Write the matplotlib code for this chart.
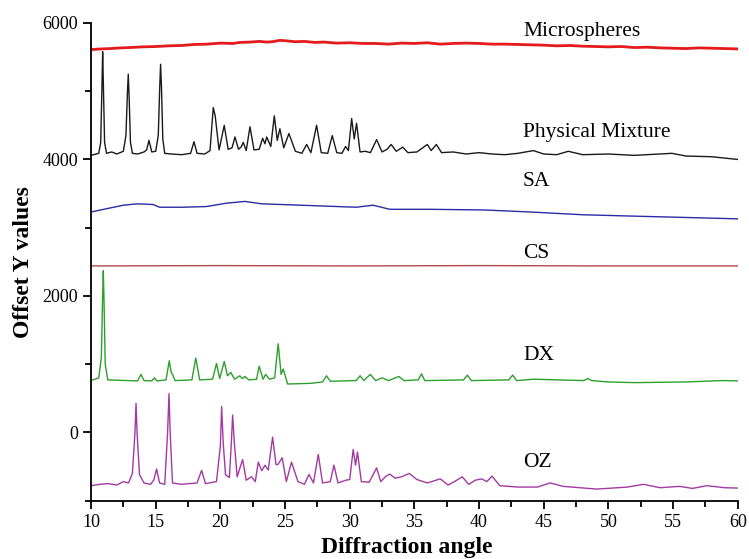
import matplotlib.pyplot as plt

plt.rcParams['font.family'] = ['Liberation Serif', 'DejaVu Serif']

# Microspheres (red)
micro_x = [10, 10.8, 11.5, 12.3, 13, 14, 15, 16, 17, 18, 19, 20, 21, 21.5, 22.3, 23, 23.6, 24, 24.6, 25,
           25.8, 26.5, 27.3, 28, 29, 30, 31, 32, 33, 34, 35, 36, 37, 38, 39, 40, 41, 42, 43, 44, 45,
           46, 47, 48, 49, 50, 51, 52, 53, 54, 55, 56, 57, 58, 59, 60]
micro_y = [5610, 5620, 5625, 5635, 5640, 5650, 5655, 5665, 5670, 5685, 5690, 5705, 5700, 5715, 5720, 5730,
           5720, 5725, 5745, 5740, 5725, 5730, 5715, 5720, 5705, 5710, 5700, 5700, 5690, 5705, 5700,
           5710, 5690, 5700, 5705, 5700, 5690, 5690, 5685, 5680, 5675, 5665, 5670, 5660, 5655, 5650,
           5655, 5640, 5645, 5635, 5630, 5625, 5635, 5630, 5625, 5620]

# Physical Mixture (black)
pm_x = [10.0, 10.6, 10.75, 10.85, 10.9, 10.95, 11.05, 11.2, 11.6, 12.0, 12.5, 12.7, 12.82, 12.88, 12.95,
        13.05, 13.2, 13.6, 14.1, 14.3, 14.48, 14.7, 15.0, 15.2, 15.32, 15.38, 15.45, 15.55, 15.7, 16.2,
        17.0, 17.7, 17.96, 18.2, 18.8, 19.2, 19.45, 19.6, 19.9, 20.3, 20.6, 20.9, 21.13, 21.4, 21.6,
        21.77, 22.0, 22.29, 22.6, 23.0, 23.27, 23.45, 23.58, 23.9, 24.17, 24.4, 24.6, 24.9, 25.3, 25.8,
        26.3, 26.67, 27.0, 27.44, 27.8, 28.3, 28.65, 29.0, 29.4, 29.68, 29.9, 30.15, 30.35, 30.53, 30.8,
        31.2, 31.6, 32.08, 32.5, 32.9, 33.2, 33.6, 34.1, 34.5, 35.2, 36.0, 36.3, 36.7, 37.1, 38.0,
        39, 40, 41, 42, 43, 44.2, 45, 46, 46.9, 48, 50, 52, 54.9, 56, 58, 60]
pm_y = [4060, 4090, 4250, 5100, 5580, 5150, 4250, 4090, 4110, 4080, 4120, 4350, 5000, 5250, 4900,
        4250, 4090, 4080, 4110, 4140, 4280, 4110, 4120, 4350, 5100, 5395, 5050, 4300, 4090, 4080,
        4070, 4090, 4260, 4090, 4080, 4130, 4760, 4640, 4140, 4500, 4150, 4170, 4330, 4150, 4180,
        4250, 4130, 4480, 4140, 4150, 4310, 4230, 4330, 4190, 4640, 4280, 4450, 4170, 4380, 4120,
        4090, 4220, 4100, 4500, 4100, 4090, 4350, 4100, 4090, 4190, 4130, 4600, 4300, 4530, 4110,
        4120, 4100, 4290, 4110, 4150, 4220, 4120, 4180, 4100, 4110, 4220, 4130, 4220, 4100, 4110,
        4080, 4100, 4080, 4070, 4090, 4130, 4080, 4070, 4120, 4070, 4080, 4060, 4090, 4050, 4040, 4000]

# SA (blue)
sa_x = [10, 11.5, 12.5, 13.6, 14.8, 15.3, 17.0, 18.9, 20.5, 21.9, 23.2, 26.2, 30.5, 31.8, 33.1, 36.0,
        40.4, 44.0, 48.0, 51.9, 56.0, 60]
sa_y = [3230, 3290, 3330, 3350, 3340, 3300, 3300, 3310, 3360, 3385, 3350, 3330, 3300, 3330, 3270, 3270,
        3260, 3230, 3190, 3170, 3150, 3130]

# CS (dark red)
cs_x = [10, 20, 30, 40, 50, 60]
cs_y = [2440, 2445, 2440, 2445, 2440, 2440]

# DX (green)
dx_x = [10.0, 10.6, 10.8, 10.9, 10.95, 11.0, 11.1, 11.3, 13.6, 13.86, 14.1, 14.7, 14.9, 15.1, 15.8,
        16.05, 16.2, 16.3, 16.5, 17.8, 18.1, 18.4, 19.4, 19.7, 19.95, 20.3, 20.55, 20.8, 21.1, 21.5,
        21.7, 21.9, 22.2, 22.8, 23.0, 23.3, 23.5, 23.8, 24.2, 24.47, 24.7, 24.86, 25.2, 27.0, 27.9,
        28.2, 28.5, 30.5, 30.8, 31.1, 31.3, 31.6, 32.0, 32.5, 33.0, 33.8, 34.2, 35.3, 35.55, 35.8,
        38.8, 39.1, 39.4, 42.3, 42.6, 42.9, 44.2, 48.1, 48.4, 48.7, 50, 52, 54, 56, 58.8, 60]
dx_y = [760, 800, 1100, 2000, 2370, 2000, 1000, 770, 755, 850, 760, 755, 800, 755, 770,
        1050, 880, 850, 760, 770, 1090, 770, 780, 1010, 790, 1040, 830, 880, 780, 830,
        790, 820, 770, 780, 970, 780, 850, 780, 800, 1300, 850, 930, 710, 720, 740,
        830, 750, 760, 830, 760, 800, 850, 760, 800, 760, 820, 760, 770, 860, 760,
        770, 840, 760, 770, 840, 760, 780, 760, 790, 760, 740, 730, 735, 740, 760, 755]

# OZ (purple)
oz_x = [10.0, 10.7, 11.3, 12.0, 12.5, 12.9, 13.2, 13.4, 13.48, 13.56, 13.75, 14.1, 14.6, 14.85, 15.07,
        15.3, 15.7, 15.92, 16.03, 16.12, 16.3, 17.0, 18.2, 18.55, 18.85, 19.7, 20.0, 20.1, 20.22, 20.4,
        20.7, 20.85, 20.95, 21.08, 21.3, 21.72, 22.0, 22.4, 22.7, 22.93, 23.2, 23.45, 23.7, 24.04, 24.3,
        24.45, 24.78, 25.1, 25.5, 26.0, 26.5, 26.85, 27.2, 27.57, 27.9, 28.5, 28.78, 29.1, 29.7, 30.0,
        30.27, 30.45, 30.6, 30.9, 31.5, 32.08, 32.4, 32.8, 33.1, 33.5, 34.0, 34.6, 35.2, 36.0, 37.0,
        37.6, 38.1, 38.7, 39.2, 39.7, 40.2, 40.6, 41.0, 41.6, 43.0, 44.5, 45.5, 46.5, 49.1, 51.5,
        52.7, 54.0, 55.5, 56.5, 57.6, 59.0, 60]
oz_y = [-780, -760, -750, -770, -720, -740, -600, 0, 426, 0, -620, -740, -760, -700, -535,
        -740, -760, 0, 570, 0, -740, -760, -740, -555, -750, -720, -200, 380, -150, -620,
        -660, -150, 255, -150, -650, -397, -700, -650, -720, -435, -560, -480, -550, -68, -470,
        -470, -372, -720, -435, -720, -760, -615, -740, -323, -740, -720, -480, -740, -700, -690,
        -250, -480, -290, -720, -730, -520, -720, -640, -610, -670, -650, -600, -690, -740, -680,
        -770, -720, -650, -760, -700, -680, -720, -640, -780, -800, -800, -740, -790, -830, -800,
        -760, -810, -790, -820, -780, -810, -815]

labels = ["Microspheres", "Physical Mixture", "SA", "CS", "DX", "OZ"]
label_y = [5880, 4395, 3675, 2616, 1130, -440]

fig, ax = plt.subplots(figsize=(7.49, 5.59), dpi=100)
fig.subplots_adjust(left=0.1215, right=0.985, bottom=0.1043, top=0.9589)

ax.plot(micro_x, micro_y, color='#e41a1c', lw=2.0)
ax.plot(pm_x, pm_y, color='#1a1a1a', lw=1.0)
ax.plot(sa_x, sa_y, color='#2b2ba8', lw=1.0)
ax.plot(cs_x, cs_y, color='#b04a4a', lw=1.0)
ax.plot(dx_x, dx_y, color='#2ca02c', lw=1.0)
ax.plot(oz_x, oz_y, color='#a23aa2', lw=1.0)

for lab, ly in zip(labels, label_y):
    ax.text(43.4, ly, lab, fontsize=15.5, va='center', ha='left')

ax.set_xlim(10, 60)
ax.set_ylim(-1000, 6000)
ax.set_xticks(range(10, 61, 5))
ax.set_xticks([x + 2.5 for x in range(10, 60, 5)], minor=True)
ax.set_yticks([0, 2000, 4000, 6000])
ax.set_yticks([-1000, 1000, 3000, 5000], minor=True)
ax.spines['top'].set_visible(False)
ax.spines['right'].set_visible(False)
ax.spines['left'].set_linewidth(1.3)
ax.spines['bottom'].set_linewidth(1.3)
ax.tick_params(axis='both', which='major', length=6, width=1.3, labelsize=13)
ax.tick_params(axis='both', which='minor', length=4, width=1.3)

ax.set_xlabel("Diffraction angle", fontsize=17, fontweight='bold')
ax.xaxis.set_label_coords(0.488, -0.075)
ax.set_ylabel("Offset Y values", fontsize=17, fontweight='bold', labelpad=6)

fig.savefig("out.png", dpi=100)
